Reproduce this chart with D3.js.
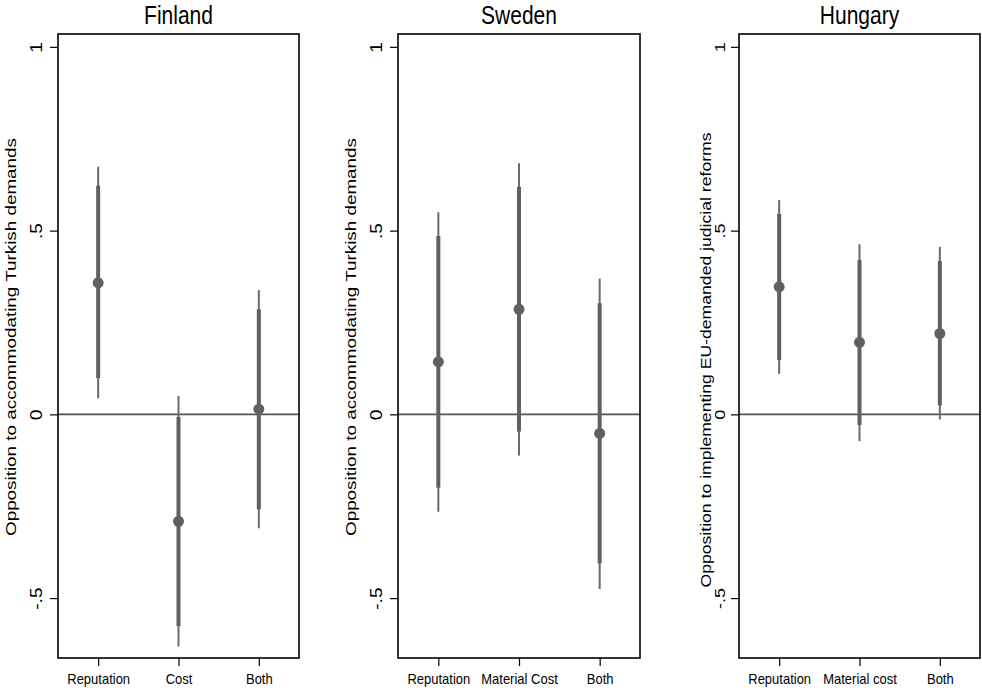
<!DOCTYPE html>
<html>
<head>
<meta charset="utf-8">
<script src="https://cdn.jsdelivr.net/npm/d3@7"></script>
<style>
  html, body { margin: 0; padding: 0; background: #fff; }
  svg { display: block; font-family: "Liberation Sans", Arial, Helvetica, sans-serif; }
</style>
</head>
<body>
<svg id="chart" width="982" height="693"></svg>
<script>
// Coefficient plots: point estimate, thick = 90% CI, thin = 95% CI

const panelTitles = ['Finland', 'Sweden', 'Hungary'];
const yTitles = [
  'Opposition to accommodating Turkish demands',
  'Opposition to accommodating Turkish demands',
  'Opposition to implementing EU-demanded judicial reforms'
];

const yTicks = [-0.5, 0, 0.5, 1];
const yTickLabels = ['-.5', '0', '.5', '1'];

const finlandCats = ['Reputation', 'Cost', 'Both'];
const finlandEst  = [0.358, -0.291, 0.014];
const finlandLo95 = [0.044, -0.632, -0.310];
const finlandHi95 = [0.674, 0.050, 0.338];
const finlandLo90 = [0.099, -0.576, -0.258];
const finlandHi90 = [0.622, -0.007, 0.286];

const swedenCats = ['Reputation', 'Material Cost', 'Both'];
const swedenEst  = [0.143, 0.286, -0.052];
const swedenLo95 = [-0.265, -0.112, -0.475];
const swedenHi95 = [0.550, 0.683, 0.370];
const swedenLo90 = [-0.200, -0.047, -0.405];
const swedenHi90 = [0.485, 0.619, 0.302];

const hungaryCats = ['Reputation', 'Material cost', 'Both'];
const hungaryEst  = [0.347, 0.196, 0.220];
const hungaryLo95 = [0.110, -0.073, -0.014];
const hungaryHi95 = [0.583, 0.463, 0.456];
const hungaryLo90 = [0.148, -0.029, 0.025];
const hungaryHi90 = [0.545, 0.420, 0.417];

const rows = (cats, est, lo95, hi95, lo90, hi90) =>
  cats.map((c, i) => ({ cat: c, est: est[i], lo95: lo95[i], hi95: hi95[i], lo90: lo90[i], hi90: hi90[i] }));

const panelData = [
  rows(finlandCats, finlandEst, finlandLo95, finlandHi95, finlandLo90, finlandHi90),
  rows(swedenCats, swedenEst, swedenLo95, swedenHi95, swedenLo90, swedenHi90),
  rows(hungaryCats, hungaryEst, hungaryLo95, hungaryHi95, hungaryLo90, hungaryHi90)
];

// layout of the three panels (pixels)
const plotTop = 34, plotBottom = 658;
const layout = [
  { left: 58,  right: 299, tickLab: 16, tickSize: 16, yTitleX: 16,  yTitleY: 337, yTitleLen: 398, yTitleSize: 15.5 },
  { left: 398, right: 640, tickLab: 16, tickSize: 16, yTitleX: 356, yTitleY: 337, yTitleLen: 398, yTitleSize: 15.5 },
  { left: 739, right: 980, tickLab: 14, tickSize: 15, yTitleX: 711, yTitleY: 360, yTitleLen: 455, yTitleSize: 14.5 }
];

const ink = '#606060';
const svg = d3.select('#chart');

const y = d3.scaleLinear().domain([-0.663, 1.035]).range([plotBottom, plotTop]);

panelData.forEach((data, p) => {
  const L = layout[p];
  const g = svg.append('g');

  const x = d3.scalePoint()
    .domain(data.map(d => d.cat))
    .range([L.left, L.right])
    .padding(0.5);

  // title
  g.append('text')
    .attr('transform', `translate(${(L.left + L.right) / 2},24) scale(1,1.25)`)
    .attr('text-anchor', 'middle')
    .attr('font-size', 21)
    .attr('fill', '#000')
    .text(panelTitles[p]);

  // y axis
  const yAxis = g.append('g')
    .attr('transform', `translate(${L.left},0)`)
    .call(d3.axisLeft(y).tickValues(yTicks).tickSize(8)
      .tickFormat((d, i) => yTickLabels[i]));
  yAxis.select('.domain').remove();
  yAxis.selectAll('.tick line').attr('stroke', '#000').attr('stroke-width', 1.2);
  yAxis.selectAll('.tick text')
    .attr('x', null).attr('dy', null)
    .attr('transform', `translate(${-L.tickLab},0) rotate(-90) scale(1.2,1)`)
    .attr('text-anchor', 'middle')
    .attr('font-size', L.tickSize)
    .attr('fill', '#000');

  // x axis
  const xAxis = g.append('g')
    .attr('transform', `translate(0,${plotBottom})`)
    .call(d3.axisBottom(x).tickSize(8));
  xAxis.select('.domain').remove();
  xAxis.selectAll('.tick line').attr('stroke', '#000').attr('stroke-width', 1.2);
  xAxis.selectAll('.tick text')
    .attr('dy', null)
    .attr('y', 0)
    .attr('transform', 'translate(0,26) scale(1,1.1)')
    .attr('font-size', 13)
    .attr('fill', '#000');

  // y axis title
  g.append('text')
    .attr('transform', `translate(${L.yTitleX},${L.yTitleY}) rotate(-90)`)
    .attr('text-anchor', 'middle')
    .attr('font-size', L.yTitleSize)
    .attr('textLength', L.yTitleLen)
    .attr('lengthAdjust', 'spacingAndGlyphs')
    .attr('fill', '#000')
    .text(yTitles[p]);

  // zero reference line
  g.append('line')
    .attr('x1', L.left).attr('x2', L.right)
    .attr('y1', y(0)).attr('y2', y(0))
    .attr('stroke', '#555').attr('stroke-width', 1.6);

  // 95% CI (thin)
  g.selectAll('line.ci95')
    .data(data)
    .join('line')
    .attr('class', 'ci95')
    .attr('x1', d => x(d.cat)).attr('x2', d => x(d.cat))
    .attr('y1', d => y(d.lo95)).attr('y2', d => y(d.hi95))
    .attr('stroke', '#6a6a6a').attr('stroke-width', 2);

  // 90% CI (thick)
  g.selectAll('line.ci90')
    .data(data)
    .join('line')
    .attr('class', 'ci90')
    .attr('x1', d => x(d.cat)).attr('x2', d => x(d.cat))
    .attr('y1', d => y(d.lo90)).attr('y2', d => y(d.hi90))
    .attr('stroke', ink).attr('stroke-width', 4);

  // point estimates
  g.selectAll('circle.est')
    .data(data)
    .join('circle')
    .attr('class', 'est')
    .attr('cx', d => x(d.cat))
    .attr('cy', d => y(d.est))
    .attr('r', 5.5)
    .attr('fill', ink);

  // plot box
  g.append('rect')
    .attr('x', L.left).attr('y', plotTop)
    .attr('width', L.right - L.left).attr('height', plotBottom - plotTop)
    .attr('fill', 'none')
    .attr('stroke', '#000').attr('stroke-width', 1.6);
});
</script>
</body>
</html>
